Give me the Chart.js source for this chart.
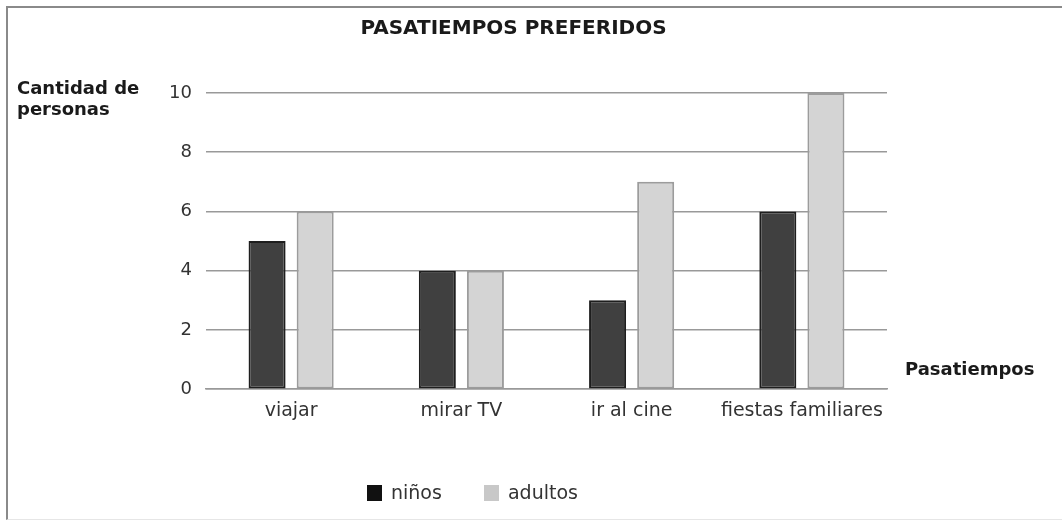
<!DOCTYPE html>
<html>
<head>
<meta charset="utf-8">
<script src="https://cdn.jsdelivr.net/npm/chart.js@4/dist/chart.umd.min.js"></script>
<style>
  html, body { margin: 0; padding: 0; background: #fff; }
  #frame {
    position: absolute; left: 6px; top: 6px; width: 1056px; height: 514px;
    border-top: 2px solid #8a8a8a; border-left: 2px solid #8a8a8a; border-bottom: 1px solid #e6e6e6;
    box-sizing: border-box;
  }
  #wrap { position: absolute; left: 0; top: 0; width: 1062px; height: 522px; }
  .lbl { position: absolute; font-family: "DejaVu Sans", Verdana, sans-serif; font-weight: bold; font-size: 18px; color: #1a1a1a; line-height: 21px; }
  #legend { position: absolute; left: 367px; top: 481px; font-family: "DejaVu Sans", Verdana, sans-serif; font-size: 19px; color: #333; }
  #legend span.box { display: inline-block; width: 15px; height: 16px; vertical-align: -2px; margin-right: 9px; }
  #legend span.item { margin-right: 36px; }
</style>
</head>
<body>
<div id="frame"></div>
<div id="wrap"><canvas id="chart" width="1062" height="522"></canvas></div>
<div class="lbl" style="left:17px; top:77px;">Cantidad de<br>personas</div>
<div class="lbl" style="left:905px; top:358px;">Pasatiempos</div>
<div id="legend">
  <span class="item"><span class="box" style="background:#111"></span>niños</span>
  <span class="item"><span class="box" style="background:#c8c8c8"></span>adultos</span>
</div>
<script>
/* Data */
const categories = ["viajar", "mirar TV", "ir al cine", "fiestas familiares"];
const ninos = [5, 4, 3, 6];
const adultos = [6, 4, 7, 10];
const yTicks = [0, 2, 4, 6, 8, 10];

const ctx = document.getElementById("chart").getContext("2d");
new Chart(ctx, {
  type: 'bar',
  data: {
    labels: categories,
    datasets: [{
        label: "niños",
        data: ninos,
        backgroundColor: "#404040",
        borderColor: "#1e1e1e",
        borderWidth: 2,
        borderSkipped: false
      }, {
        label: "adultos",
        data: adultos,
        backgroundColor: "#d4d4d4",
        borderColor: "#9c9c9c",
        borderWidth: 2,
        borderSkipped: false
      }
    ]
  },
  options: {
    responsive: false,
    animation: false,
    datasets: { bar: { categoryPercentage: 0.565, barPercentage: 0.77 } },
    layout: { padding: { left: 140, right: 175, top: 10, bottom: 90 } },
    plugins: {
      legend: { display: false },
      tooltip: { enabled: false },
      title: {
        display: true,
        text: 'PASATIEMPOS PREFERIDOS',
        color: '#1a1a1a',
        font: { family: 'DejaVu Sans', size: 20, weight: 'bold' },
        padding: { top: 7, bottom: 52 }
      }
    },
    scales: {
      x: {
        grid: { display: false, drawTicks: false },
        border: { color: '#999', width: 1.5 },
        ticks: { color: '#333', padding: 10, font: { family: 'DejaVu Sans', size: 19 } }
      },
      y: {
        min: 0, max: 10,
        afterFit: (s) => { s.width = 66; },
        afterBuildTicks: (s) => { s.ticks = yTicks.map(v => ({ value: v })); },
        grid: { color: '#999', lineWidth: 1.5, drawTicks: false },
        border: { display: false },
        ticks: { color: '#333', padding: 14, font: { family: 'DejaVu Sans', size: 18 } }
      }
    }
  }
});
</script>
</body>
</html>
